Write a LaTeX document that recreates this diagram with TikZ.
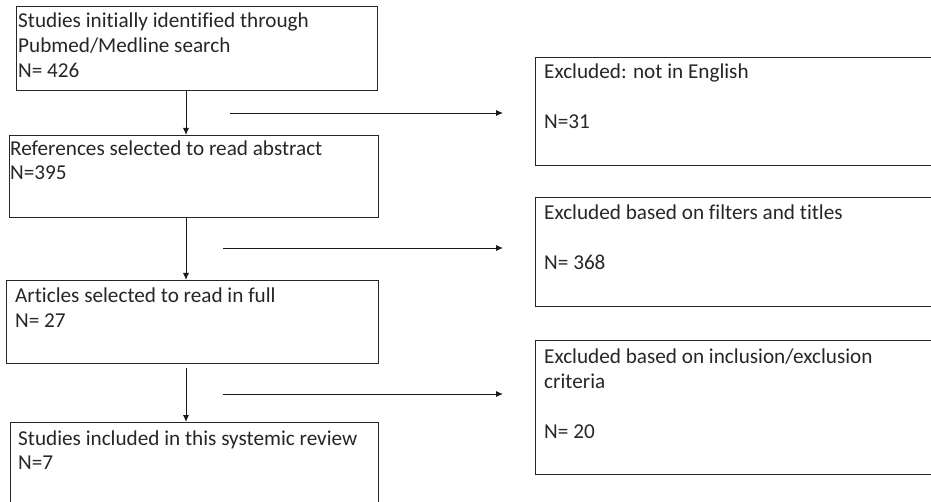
\documentclass[tikz,border=0pt]{standalone}
\usepackage{fontspec}
\setmainfont[Ligatures={NoCommon}]{Carlito}
\usetikzlibrary{arrows.meta}
\begin{document}
\begin{tikzpicture}[x=1pt,y=-1pt,
  boxst/.style={draw=black!85, line width=0.9pt, anchor=north west, inner sep=0pt},
  txt/.style={anchor=base west, inner sep=0pt, font=\fontsize{21.2}{25}\selectfont, text=black!85},
  arr/.style={draw=black!90, line width=0.9pt, -{Latex[length=7pt,width=6pt]}}]
\useasboundingbox (0,0) rectangle (931,502);
\clip (0,0) rectangle (931,502);
% left column boxes
\node[boxst, minimum width=361pt, minimum height=84pt] (b1) at (16,6) {};
\node[boxst, minimum width=369pt, minimum height=82pt] (b2) at (9,135) {};
\node[boxst, minimum width=372pt, minimum height=83pt] (b3) at (6,280) {};
\node[boxst, minimum width=368pt, minimum height=100pt] (b4) at (10,422) {};
% right column boxes
\node[boxst, minimum width=420pt, minimum height=108pt] (e1) at (535,57) {};
\node[boxst, minimum width=420pt, minimum height=109pt] (e2) at (535,197) {};
\node[boxst, minimum width=420pt, minimum height=134pt] (e3) at (535,340) {};
% texts
\node[txt] (t1a) at (18,28) {Studies initially identified through};
\node[txt] (t1b) at (18,53) {Pubmed/Medline search};
\node[txt] (t1c) at (18,78) {N= 426};
\node[txt] (t2a) at (10,156) {References selected to read abstract};
\node[txt] (t2b) at (10,180) {N=395};
\node[txt] (t3a) at (15,303) {Articles selected to read in full};
\node[txt] (t3b) at (15,327) {N= 27};
\node[txt] (t4a) at (18,445) {Studies included in this systemic review};
\node[txt] (t4b) at (18,469) {N=7};
\node[txt] (u1a) at (544,79) {Excluded: not in English};
\node[txt] (u1b) at (544,129) {N=31};
\node[txt] (u2a) at (544,220) {Excluded based on filters and titles};
\node[txt] (u2b) at (544,270) {N= 368};
\node[txt] (u3a) at (544,363) {Excluded based on inclusion/exclusion};
\node[txt] (u3b) at (544,388) {criteria};
\node[txt] (u3c) at (544,438) {N= 20};
% connectors
\coordinate (ax) at (186,0);
\coordinate (h1s) at (230,113);
\coordinate (h1e) at (503,113);
\coordinate (h2s) at (223,248);
\coordinate (h2e) at (503,248);
\coordinate (h3s) at (223,394);
\coordinate (h3e) at (503,394);
\coordinate (v3s) at (186,368);
\draw[arr] (b1.south -| ax) -- (b2.north -| ax);
\draw[arr] (b2.south -| ax) -- (b3.north -| ax);
\draw[arr] (v3s) -- (b4.north -| ax);
\draw[arr] (h1s) -- (h1e);
\draw[arr] (h2s) -- (h2e);
\draw[arr] (h3s) -- (h3e);
\end{tikzpicture}
\end{document}
